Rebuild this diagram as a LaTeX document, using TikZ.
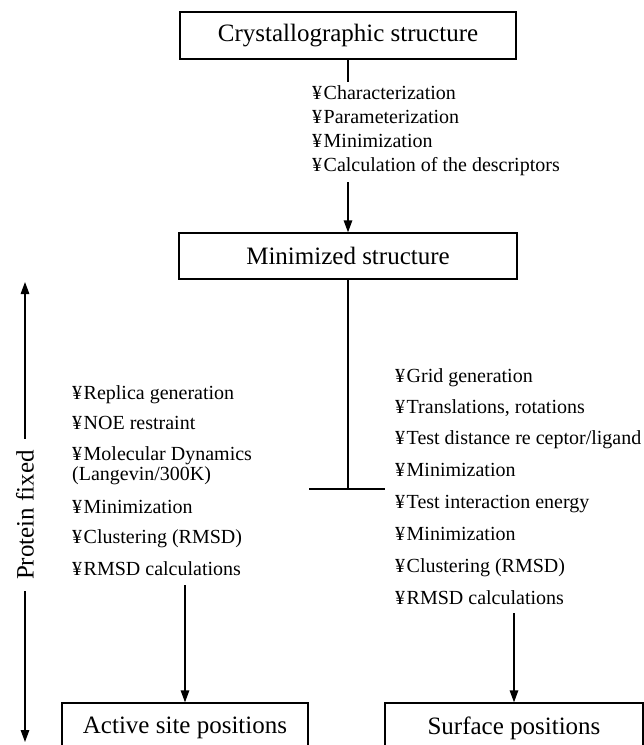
\documentclass[tikz,border=0pt]{standalone}
\usepackage{fontspec}
\setmainfont{Liberation Serif}
\usetikzlibrary{arrows.meta}
\newcommand{\yb}{¥\kern1.5pt}
\begin{document}
\begin{tikzpicture}[x=1pt,y=-1pt,
  box/.style={draw, line width=1.3pt, inner sep=0pt, font=\fontsize{25}{30}\selectfont},
  item/.style={anchor=base west, inner sep=0pt, font=\fontsize{20}{22}\selectfont},
  conn/.style={line width=1.3pt},
  arr/.style={line width=1.3pt, -{Triangle[length=12pt,width=8.5pt]}}
]
\useasboundingbox (0,0) rectangle (644,745);
\clip (0,0) rectangle (644,745);
% boxes
\node[box, minimum width=336pt, minimum height=47pt] (crys) at (348,35.5) {Crystallographic structure};
\node[box, minimum width=338pt, minimum height=46pt] (mini) at (348,256) {Minimized structure};
\node[box, minimum width=246pt, minimum height=50pt] (active) at (185,728) {Active site positions};
\node[box, minimum width=258pt, minimum height=50pt] (surf) at (514,728) {Surface positions};
% top list
\node[item] (a1) at (312,99) {\yb Characterization};
\node[item] (a2) at (312,123) {\yb Parameterization};
\node[item] (a3) at (312,147) {\yb Minimization};
\node[item] (a4) at (312,171) {\yb Calculation of the descriptors};
% left list
\node[item] (b1) at (72,399) {\yb Replica generation};
\node[item] (b2) at (72,429) {\yb NOE restraint};
\node[item] (b3) at (72,460) {\yb Molecular Dynamics};
\node[item] (b3b) at (72,480) {(Langevin/300K)};
\node[item] (b4) at (72,513) {\yb Minimization};
\node[item] (b5) at (72,543) {\yb Clustering (RMSD)};
\node[item] (b6) at (72,575) {\yb RMSD calculations};
% right list
\node[item] (c1) at (395,382) {\yb Grid generation};
\node[item] (c2) at (395,413) {\yb Translations, rotations};
\node[item] (c3) at (395,444) {\yb Test distance re ceptor/ligand};
\node[item] (c4) at (395,476) {\yb Minimization};
\node[item] (c5) at (395,508) {\yb Test interaction energy};
\node[item] (c6) at (395,540) {\yb Minimization};
\node[item] (c7) at (395,572) {\yb Clustering (RMSD)};
\node[item] (c8) at (395,604) {\yb RMSD calculations};
% protein fixed
\node[rotate=90, font=\fontsize{25}{30}\selectfont, inner xsep=11pt, inner ysep=0pt] (pf) at (25,515) {Protein fixed};
% coordinates
\coordinate (t1) at (348,82);
\coordinate (t2) at (348,182);
\coordinate (tj) at (348,489);
\coordinate (hl) at (309,489);
\coordinate (hr) at (385,489);
\coordinate (la) at (185,585);
\coordinate (ra) at (514,613);
\coordinate (pt) at (25,282);
\coordinate (pb) at (25,742);
% connectors
\draw[conn] (crys) -- (t1);
\draw[arr] (t2) -- (mini);
\draw[conn] (mini) -- (tj);
\draw[conn] (hl) -- (hr);
\draw[arr] (la) -- (active);
\draw[arr] (ra) -- (surf);
\draw[arr] (pf.east) -- (pt);
\draw[arr] (pf.west) -- (pb);
\end{tikzpicture}
\end{document}
